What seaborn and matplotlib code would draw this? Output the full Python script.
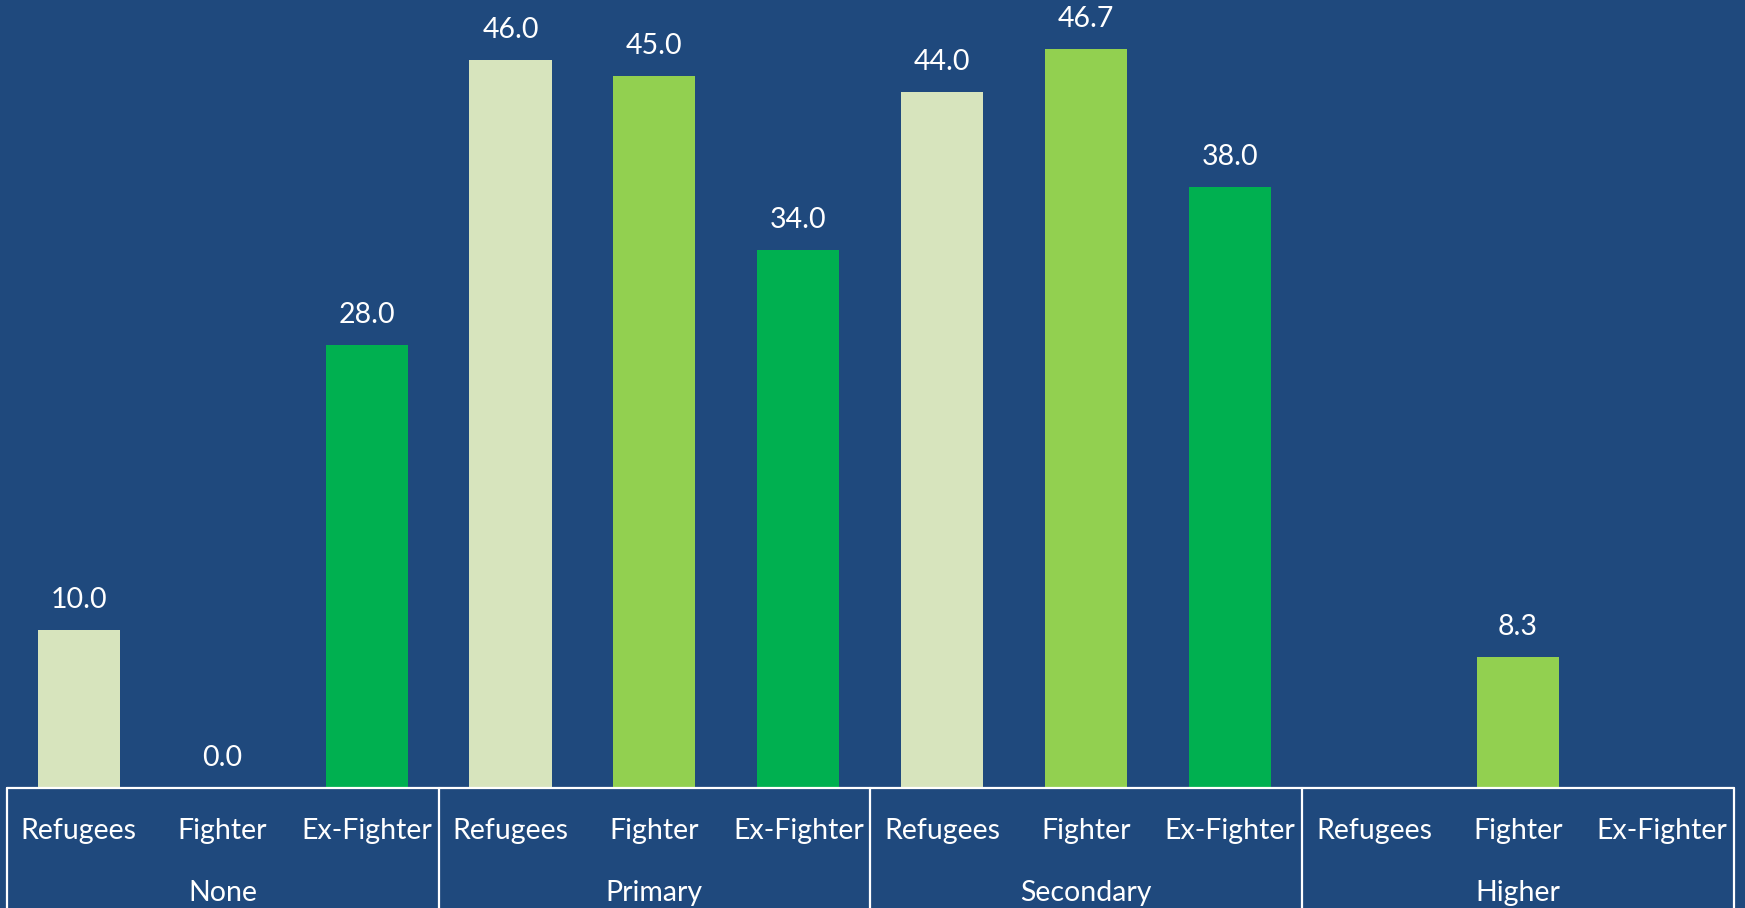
import matplotlib
matplotlib.use("Agg")
import matplotlib.pyplot as plt
import seaborn as sns
import pandas as pd

groups = ["None", "Primary", "Secondary", "Higher"]
types = ["Refugees", "Fighter", "Ex-Fighter"]
refugees = [10.0, 46.0, 44.0, None]
fighter = [0.0, 45.0, 46.7, 8.3]
ex_fighter = [28.0, 34.0, 38.0, None]

rows = []
for i, g in enumerate(groups):
    for t, vals in zip(types, [refugees, fighter, ex_fighter]):
        rows.append({"group": g, "type": t, "value": vals[i]})
df = pd.DataFrame(rows)

BG = "#1F497D"
palette = {"Refugees": "#D7E4BD", "Fighter": "#92D050", "Ex-Fighter": "#00B050"}

sns.set_theme(style="white")
plt.rcParams["font.family"] = ["Lato", "DejaVu Sans"]

fig = plt.figure(figsize=(17.45, 9.08), dpi=100, facecolor=BG)
ax = fig.add_axes([6.7 / 1745, (908 - 788) / 908, (1734 - 6.7) / 1745, 788 / 908])
ax.set_facecolor(BG)

sns.barplot(data=df.dropna(), x="group", y="value", hue="type", order=groups,
            hue_order=types, palette=palette, width=1.0, gap=0.43,
            dodge=True, saturation=1, legend=False, ax=ax, errorbar=None,
            linewidth=0)

ax.set_xlim(-0.5, 3.5)
ax.set_ylim(0, 49.8)
ax.set_xlabel("")
ax.set_ylabel("")
ax.set_xticks([])
ax.set_yticks([])
for s in ax.spines.values():
    s.set_visible(False)

FS = 20.5
# value labels
for gi, g in enumerate(groups):
    for ti, (t, vals) in enumerate(zip(types, [refugees, fighter, ex_fighter])):
        v = vals[gi]
        if v is None:
            continue
        xc = gi + (ti - 1) / 3
        ax.annotate(f"{v:.1f}", (xc, v), xytext=(0, 30), textcoords="offset pixels",
                    ha="center", va="center", color="white", fontsize=FS)

trans = ax.get_xaxis_transform()
ax_h = 788
ax.plot([-0.5, 3.5], [0, 0], color="white", lw=1.6, transform=trans, clip_on=False)
for xb in [-0.5, 0.5, 1.5, 2.5, 3.5]:
    ax.plot([xb, xb], [0, -130 / ax_h], color="white", lw=1.6, transform=trans, clip_on=False)

for gi, g in enumerate(groups):
    for ti, t in enumerate(types):
        xc = gi + (ti - 1) / 3
        ax.text(xc, -(831 - 788) / ax_h, t, transform=trans, ha="center", va="center",
                color="white", fontsize=FS)
    ax.text(gi, -(893 - 788) / ax_h, g, transform=trans, ha="center", va="center",
            color="white", fontsize=FS)

fig.savefig("out.png", dpi=100, facecolor=BG)
